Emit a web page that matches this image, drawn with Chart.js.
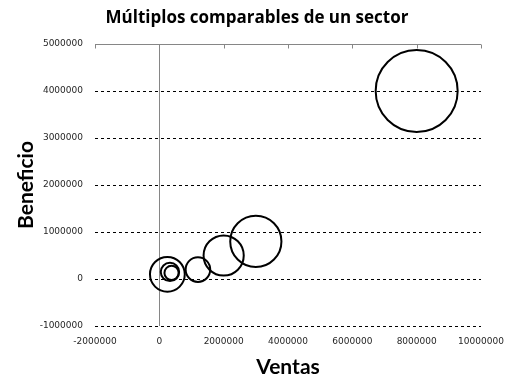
<!DOCTYPE html>
<html>
<head>
<meta charset="utf-8">
<script src="https://cdn.jsdelivr.net/npm/chart.js@4/dist/chart.umd.min.js"></script>
<style>
  html, body { margin: 0; padding: 0; background: #fff; }
  #wrap { width: 514px; height: 386px; }
</style>
</head>
<body>
<div id="wrap"><canvas id="grafico"></canvas></div>
<script>
// datos
const ventas    = [8000000, 3000000, 2000000, 1200000, 250000, 330000, 380000];
const beneficio = [4000000,  800000,  500000,  200000, 100000, 150000, 130000];
const tamano    = [100, 39, 24, 9, 18, 5, 3];
const xTicks = [-2000000, 0, 2000000, 4000000, 6000000, 8000000, 10000000];
const yTicks = [-1000000, 0, 1000000, 2000000, 3000000, 4000000, 5000000];

const MAX_R = 41; // radio de la burbuja mayor, como en Excel (area proporcional)
const maxTam = Math.max(...tamano);
const puntos = ventas.map((v, i) => ({
	x: v,
	y: beneficio[i],
	r: MAX_R * Math.sqrt(tamano[i] / maxTam)
}));

// eje horizontal dibujado arriba, con marcas hacia dentro
const ejeSuperior = {
	id: 'ejeSuperior',
	beforeDatasetsDraw(chart) {
		const {ctx, chartArea, scales} = chart;
		const top = Math.round(chartArea.top) + 0.5;
		ctx.save();
		ctx.strokeStyle = '#868686';
		ctx.lineWidth = 1;
		ctx.beginPath();
		ctx.moveTo(chartArea.left, top);
		ctx.lineTo(chartArea.right, top);
		xTicks.forEach(v => {
			const px = Math.round(scales.x.getPixelForValue(v)) + 0.5;
			ctx.moveTo(px, top);
			ctx.lineTo(px, top + 4);
		});
		ctx.stroke();
		ctx.restore();
	}
};

const tickFont = {family: 'DejaVu Sans', size: 9};
const titleFont = {family: 'Lato', size: 21, weight: 'bold'};

new Chart(document.getElementById('grafico').getContext('2d'), {
	type: 'bubble',
	data: {
		datasets: [{
			label: 'Empresas',
			data: puntos,
			backgroundColor: 'rgba(255, 255, 255, 0)',
			borderColor: '#000',
			borderWidth: 2,
			hoverBorderWidth: 2,
			hoverRadius: 0
		}]
	},
	options: {
		responsive: true,
		maintainAspectRatio: false,
		animation: false,
		devicePixelRatio: 1,
		// sin autoPadding: si no, el radio de la burbuja mayor se suma como margen
		layout: {autoPadding: false, padding: 0},
		plugins: {
			legend: {display: false},
			tooltip: {enabled: false},
			title: {
				display: true,
				text: 'Múltiplos comparables de un sector',
				color: '#000',
				font: {family: 'Open Sans', size: 17, weight: 'bold', lineHeight: 1.2},
				padding: {top: 7.5, bottom: 16.1}
			}
		},
		scales: {
			x: {
				type: 'linear',
				position: 'bottom',
				min: -2000000,
				max: 10000000,
				afterBuildTicks: s => { s.ticks = xTicks.map(v => ({value: v})); },
				afterFit: s => { s.height = 60; s.paddingLeft = 0; s.paddingRight = 33; },
				ticks: {
					color: '#262626', font: {family: 'DejaVu Sans', size: 9, lineHeight: 3.44},
					padding: 0, maxRotation: 0, autoSkip: false,
					callback: v => String(v)
				},
				grid: {
					drawTicks: false,
					color: c => (c.tick && c.tick.value === 0) ? '#868686' : 'rgba(0,0,0,0)'
				},
				border: {display: false},
				title: {display: true, text: 'Ventas', color: '#000', font: titleFont, padding: {top: 0, bottom: 6}}
			},
			y: {
				type: 'linear',
				min: -1000000,
				max: 5000000,
				afterBuildTicks: s => { s.ticks = yTicks.map(v => ({value: v})); },
				afterFit: s => { s.width = 95; },
				ticks: {color: '#262626', font: tickFont, padding: 12, callback: v => String(v)},
				grid: {
					drawTicks: false,
					color: c => (c.tick && c.tick.value === 5000000) ? 'rgba(0,0,0,0)' : '#000'
				},
				border: {display: false, dash: [3, 3]},
				title: {display: true, text: 'Beneficio', color: '#000', font: titleFont, padding: {top: 14, bottom: 0}}
			}
		}
	},
	plugins: [ejeSuperior]
});
</script>
</body>
</html>
